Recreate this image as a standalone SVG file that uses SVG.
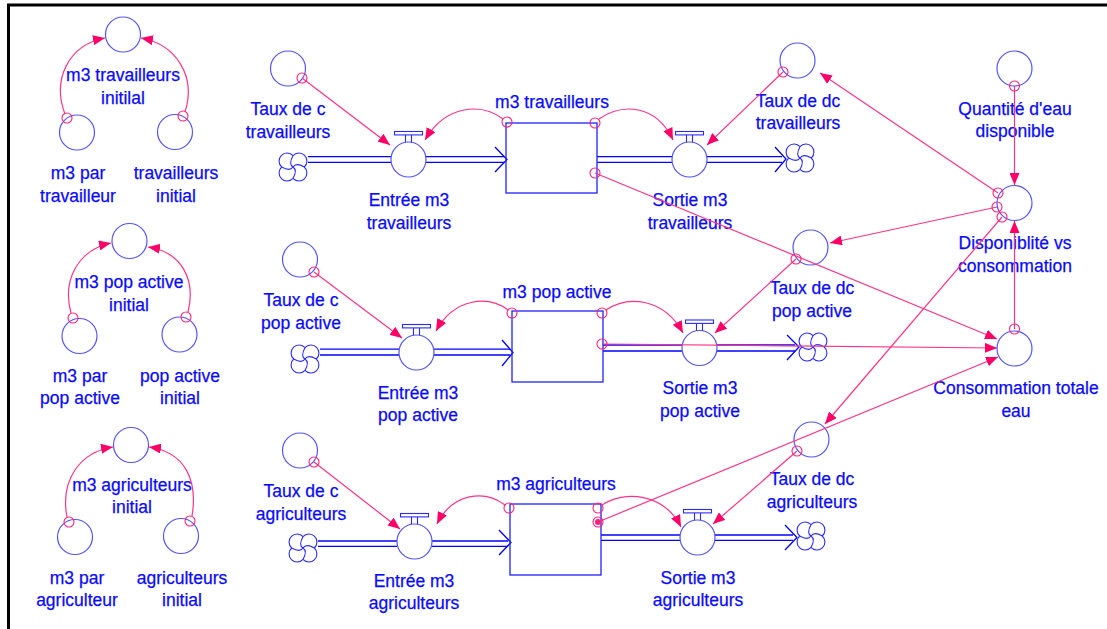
<svg xmlns="http://www.w3.org/2000/svg" xmlns:xlink="http://www.w3.org/1999/xlink" width="1107" height="629" viewBox="0 0 1107 629">
<style>
.aux{fill:none;stroke:#5555ff;stroke-width:1.2}
.stock{fill:none;stroke:#2020ff;stroke-width:1.3}
.pipe{stroke:#0000ff;stroke-width:1.3;fill:none}
.lbl{font-family:"Liberation Sans",Arial,sans-serif;font-size:17.5px;fill:#0a0aff;stroke:#0a0aff;stroke-width:0.25;text-anchor:middle}
.link{stroke:#ff3385;stroke-width:1.2;fill:none}
.dot{fill:none;stroke:#ff2277;stroke-width:1.1}
.cloud{fill:none;stroke:#2a2aff;stroke-width:1.1}
</style>
<defs>
<marker id="arr" viewBox="0 0 12 10" refX="12" refY="5" markerWidth="12" markerHeight="10" markerUnits="userSpaceOnUse" orient="auto">
<path d="M0,0 L12,5 L0,10 z" fill="#ff0066"/>
</marker>
<g id="cloudSym">
<path class="cloud" d="M0,-11.3 A8,8 0 1 1 11.3,0 A8,8 0 1 1 0,11.3 A8,8 0 1 1 -11.3,0 A8,8 0 1 1 0,-11.3 Z M0,-11.3 C-3,-6 -3,-2 0,0 M11.3,0 C6,-3 2,-3 0,0 M0,11.3 C3,6 3,2 0,0 M-11.3,0 C-6,3 -2,3 0,0"/>
</g>
<g id="valveSym">
<circle class="aux" cx="0" cy="0" r="17.5"/>
<rect x="-14" y="-28" width="28" height="3.4" fill="none" stroke="#2a2aff" stroke-width="1.1"/>
<line x1="-3" y1="-24.6" x2="-3" y2="-17.2" stroke="#2a2aff" stroke-width="1.1"/>
<line x1="3" y1="-24.6" x2="3" y2="-17.2" stroke="#2a2aff" stroke-width="1.1"/>
</g>
</defs>
<rect x="0" y="0" width="1107" height="629" fill="#ffffff"/>
<rect x="8.5" y="5" width="1200" height="700" fill="none" stroke="#000000" stroke-width="3"/>

<!-- pipes / flows -->
<g id="flows">
<!-- row 1 -->
<line class="pipe" x1="308" y1="156.7" x2="391" y2="156.7"/><line class="pipe" x1="308" y1="162.3" x2="391" y2="162.3"/>
<line class="pipe" x1="426" y1="156.7" x2="504" y2="156.7"/><line class="pipe" x1="426" y1="162.3" x2="504" y2="162.3"/>
<polyline class="pipe" points="495,147 507,159.5 495,172"/>
<line class="pipe" x1="597" y1="156.7" x2="672" y2="156.7"/><line class="pipe" x1="597" y1="162.3" x2="672" y2="162.3"/>
<line class="pipe" x1="707" y1="156.7" x2="782" y2="156.7"/><line class="pipe" x1="707" y1="162.3" x2="782" y2="162.3"/>
<polyline class="pipe" points="775,147 786,159 775,172"/>
<!-- row 2 -->
<line class="pipe" x1="320" y1="349.2" x2="399" y2="349.2"/><line class="pipe" x1="320" y1="355" x2="399" y2="355"/>
<line class="pipe" x1="434" y1="349.2" x2="510" y2="349.2"/><line class="pipe" x1="434" y1="355" x2="510" y2="355"/>
<polyline class="pipe" points="502,340 513,352.5 502,366"/>
<line class="pipe" x1="603" y1="345" x2="682" y2="345"/><line class="pipe" x1="603" y1="351" x2="682" y2="351"/>
<line class="pipe" x1="717" y1="345" x2="795" y2="345"/><line class="pipe" x1="717" y1="351" x2="795" y2="351"/>
<polyline class="pipe" points="787,335 799,347 787,360"/>
<!-- row 3 -->
<line class="pipe" x1="318" y1="541" x2="397" y2="541"/><line class="pipe" x1="318" y1="546.3" x2="397" y2="546.3"/>
<line class="pipe" x1="432" y1="541" x2="508" y2="541"/><line class="pipe" x1="432" y1="546.3" x2="508" y2="546.3"/>
<polyline class="pipe" points="499,530 511,542.5 499,555"/>
<line class="pipe" x1="601" y1="535" x2="680" y2="535"/><line class="pipe" x1="601" y1="540.3" x2="680" y2="540.3"/>
<line class="pipe" x1="715" y1="535" x2="793" y2="535"/><line class="pipe" x1="715" y1="540.3" x2="793" y2="540.3"/>
<polyline class="pipe" points="785,525 797,537.5 785,550"/>
<use xlink:href="#cloudSym" href="#cloudSym" x="293" y="167"/>
<use xlink:href="#cloudSym" href="#cloudSym" x="800" y="158"/>
<use xlink:href="#cloudSym" href="#cloudSym" x="305" y="359"/>
<use xlink:href="#cloudSym" href="#cloudSym" x="813" y="347"/>
<use xlink:href="#cloudSym" href="#cloudSym" x="303" y="548"/>
<use xlink:href="#cloudSym" href="#cloudSym" x="811" y="536"/>
</g>

<!-- left constant groups -->
<g id="m3-travailleurs-initial"><circle class="aux" cx="123" cy="34.5" r="17.5"/><text class="lbl" x="123" y="81">m3 travailleurs</text><text class="lbl" x="123" y="104">initilal</text></g>
<g id="m3-par-travailleur"><circle class="aux" cx="77" cy="132.5" r="17.5"/><text class="lbl" x="78" y="179">m3 par</text><text class="lbl" x="78" y="202">travailleur</text></g>
<g id="travailleurs-initial"><circle class="aux" cx="175" cy="132" r="17.5"/><text class="lbl" x="176" y="179">travailleurs</text><text class="lbl" x="176" y="202">initial</text></g>

<g id="m3-pop-active-initial"><circle class="aux" cx="129.5" cy="241" r="17.5"/><text class="lbl" x="129" y="288">m3 pop active</text><text class="lbl" x="129" y="311">initial</text></g>
<g id="m3-par-pop-active"><circle class="aux" cx="79.5" cy="336" r="17.5"/><text class="lbl" x="80" y="382">m3 par</text><text class="lbl" x="80" y="404">pop active</text></g>
<g id="pop-active-initial"><circle class="aux" cx="179.5" cy="334.5" r="17.5"/><text class="lbl" x="180" y="382">pop active</text><text class="lbl" x="180" y="404">initial</text></g>

<g id="m3-agriculteurs-initial"><circle class="aux" cx="131" cy="445" r="17.5"/><text class="lbl" x="132" y="491">m3 agriculteurs</text><text class="lbl" x="132" y="513">initial</text></g>
<g id="m3-par-agriculteur"><circle class="aux" cx="75" cy="537" r="17.5"/><text class="lbl" x="77" y="584">m3 par</text><text class="lbl" x="77" y="606">agriculteur</text></g>
<g id="agriculteurs-initial"><circle class="aux" cx="181" cy="536" r="17.5"/><text class="lbl" x="182" y="584">agriculteurs</text><text class="lbl" x="182" y="606">initial</text></g>

<!-- row 1 -->
<g id="taux-c-travailleurs"><circle class="aux" cx="288" cy="68.5" r="17.5"/><text class="lbl" x="288" y="115">Taux de c</text><text class="lbl" x="288" y="138">travailleurs</text></g>
<g id="entree-m3-travailleurs"><use xlink:href="#valveSym" href="#valveSym" x="408.5" y="159.5"/><text class="lbl" x="409" y="206">Entrée m3</text><text class="lbl" x="409" y="229">travailleurs</text></g>
<g id="stock-m3-travailleurs"><rect class="stock" x="506" y="123" width="91" height="70"/><text class="lbl" x="552" y="108">m3 travailleurs</text></g>
<g id="sortie-m3-travailleurs"><use xlink:href="#valveSym" href="#valveSym" x="689.5" y="159.5"/><text class="lbl" x="690" y="206">Sortie m3</text><text class="lbl" x="690" y="229">travailleurs</text></g>
<g id="taux-dc-travailleurs"><circle class="aux" cx="797.5" cy="60.5" r="17.5"/><text class="lbl" x="798" y="107">Taux de dc</text><text class="lbl" x="798" y="129">travailleurs</text></g>
<g id="quantite-eau"><circle class="aux" cx="1014.5" cy="68.5" r="17.5"/><text class="lbl" x="1015" y="115">Quantité d'eau</text><text class="lbl" x="1015" y="137">disponible</text></g>
<g id="disponibilite"><circle class="aux" cx="1014.5" cy="203" r="17.5"/><text class="lbl" x="1015" y="249">Disponiblité vs</text><text class="lbl" x="1015" y="272">consommation</text></g>

<!-- row 2 -->
<g id="taux-c-pop-active"><circle class="aux" cx="300" cy="259.5" r="17.5"/><text class="lbl" x="301" y="306">Taux de c</text><text class="lbl" x="301" y="329">pop active</text></g>
<g id="entree-m3-pop-active"><use xlink:href="#valveSym" href="#valveSym" x="416.5" y="352.5"/><text class="lbl" x="418" y="399">Entrée m3</text><text class="lbl" x="418" y="421">pop active</text></g>
<g id="stock-m3-pop-active"><rect class="stock" x="512" y="311" width="91" height="71"/><text class="lbl" x="557" y="298">m3 pop active</text></g>
<g id="sortie-m3-pop-active"><use xlink:href="#valveSym" href="#valveSym" x="699.5" y="348"/><text class="lbl" x="700" y="394">Sortie m3</text><text class="lbl" x="700" y="417">pop active</text></g>
<g id="taux-dc-pop-active"><circle class="aux" cx="810.5" cy="247.5" r="17.5"/><text class="lbl" x="812" y="294">Taux de dc</text><text class="lbl" x="812" y="317">pop active</text></g>
<g id="consommation-totale"><circle class="aux" cx="1014.5" cy="348.5" r="17.5"/><text class="lbl" x="1016" y="394">Consommation totale</text><text class="lbl" x="1016" y="417">eau</text></g>

<!-- row 3 -->
<g id="taux-c-agriculteurs"><circle class="aux" cx="300" cy="450.5" r="17.5"/><text class="lbl" x="301" y="497">Taux de c</text><text class="lbl" x="301" y="520">agriculteurs</text></g>
<g id="entree-m3-agriculteurs"><use xlink:href="#valveSym" href="#valveSym" x="414.5" y="541.5"/><text class="lbl" x="414" y="587">Entrée m3</text><text class="lbl" x="414" y="609">agriculteurs</text></g>
<g id="stock-m3-agriculteurs"><rect class="stock" x="510" y="504" width="91" height="71"/><text class="lbl" x="556" y="490">m3 agriculteurs</text></g>
<g id="sortie-m3-agriculteurs"><use xlink:href="#valveSym" href="#valveSym" x="697.5" y="537.5"/><text class="lbl" x="698" y="584">Sortie m3</text><text class="lbl" x="698" y="606">agriculteurs</text></g>
<g id="taux-dc-agriculteurs"><circle class="aux" cx="811.5" cy="439.5" r="17.5"/><text class="lbl" x="812" y="485">Taux de dc</text><text class="lbl" x="812" y="508">agriculteurs</text></g>

<!-- connectors -->
<g id="connectors">
<path class="link" marker-end="url(#arr)" d="M65,114 C52,80 68,45 105,38"/>
<path class="link" marker-end="url(#arr)" d="M185,112 C196,78 178,45 141,38"/>
<path class="link" marker-end="url(#arr)" d="M71,313 C62,280 78,250 111,243"/>
<path class="link" marker-end="url(#arr)" d="M188,312 C196,280 182,252 148,247"/>
<path class="link" marker-end="url(#arr)" d="M67,517 C60,480 80,452 113,447"/>
<path class="link" marker-end="url(#arr)" d="M192,516 C198,480 185,452 149,447"/>

<path class="link" marker-end="url(#arr)" d="M503,119 C482,103 446,104 425,140"/>
<path class="link" marker-end="url(#arr)" d="M599,119 C622,103 656,104 673,140"/>
<path class="link" marker-end="url(#arr)" d="M508,310 C488,295 454,298 436,331"/>
<path class="link" marker-end="url(#arr)" d="M606,310 C628,295 664,298 683,333"/>
<path class="link" marker-end="url(#arr)" d="M505,505 C485,490 453,492 437,524"/>
<path class="link" marker-end="url(#arr)" d="M602,505 C624,490 664,493 681,527"/>

<line class="link" marker-end="url(#arr)" x1="302" y1="78" x2="390" y2="145"/>
<line class="link" marker-end="url(#arr)" x1="314" y1="272" x2="402" y2="338"/>
<line class="link" marker-end="url(#arr)" x1="314" y1="462" x2="400" y2="529"/>
<line class="link" marker-end="url(#arr)" x1="783" y1="72" x2="707" y2="145"/>
<line class="link" marker-end="url(#arr)" x1="796" y1="259" x2="715" y2="333"/>
<line class="link" marker-end="url(#arr)" x1="797" y1="451" x2="713" y2="524"/>
<line class="link" marker-end="url(#arr)" x1="998" y1="193" x2="820" y2="73"/>
<line class="link" marker-end="url(#arr)" x1="997" y1="207" x2="830" y2="243"/>
<line class="link" marker-end="url(#arr)" x1="1002" y1="217" x2="825" y2="424"/>
<line class="link" marker-end="url(#arr)" x1="1014.5" y1="86" x2="1014.5" y2="185"/>
<line class="link" marker-end="url(#arr)" x1="1014.5" y1="329" x2="1014.5" y2="221"/>
<line class="link" marker-end="url(#arr)" x1="595" y1="173" x2="997" y2="339"/>
<line class="link" marker-end="url(#arr)" x1="602" y1="344" x2="997" y2="348"/>
<line class="link" marker-end="url(#arr)" x1="598" y1="522" x2="998" y2="357"/>

<circle class="dot" cx="67" cy="118" r="5"/>
<circle class="dot" cx="183" cy="116" r="5"/>
<circle class="dot" cx="73" cy="318" r="5"/>
<circle class="dot" cx="186" cy="317" r="5"/>
<circle class="dot" cx="69" cy="522" r="5"/>
<circle class="dot" cx="190" cy="521" r="5"/>
<circle class="dot" cx="302" cy="78" r="5"/>
<circle class="dot" cx="314" cy="272" r="5"/>
<circle class="dot" cx="314" cy="462" r="5"/>
<circle class="dot" cx="507" cy="122" r="5"/>
<circle class="dot" cx="595" cy="123" r="5"/>
<circle class="dot" cx="595" cy="173" r="5"/>
<circle class="dot" cx="512" cy="313" r="5"/>
<circle class="dot" cx="602" cy="313" r="5"/>
<circle class="dot" cx="602" cy="344" r="5"/>
<circle class="dot" cx="509" cy="508" r="5"/>
<circle class="dot" cx="598" cy="508" r="5"/>
<circle class="dot" cx="598" cy="522" r="5"/>
<circle cx="598" cy="522" r="3" fill="#ff2277"/>
<circle class="dot" cx="783" cy="72" r="5"/>
<circle class="dot" cx="796" cy="259" r="5"/>
<circle class="dot" cx="797" cy="451" r="5"/>
<circle class="dot" cx="1014.5" cy="86" r="5"/>
<circle class="dot" cx="998" cy="193" r="5"/>
<circle class="dot" cx="997" cy="207" r="5"/>
<circle class="dot" cx="1002" cy="217" r="5"/>
<circle class="dot" cx="1014.5" cy="329" r="5"/>
</g>
</svg>
